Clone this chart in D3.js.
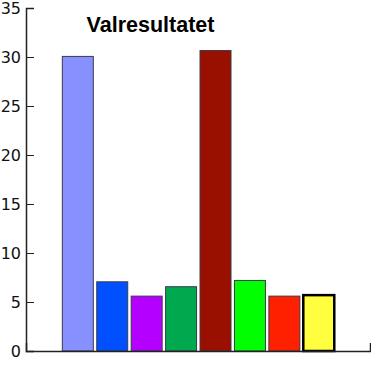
<!DOCTYPE html>
<html>
<head>
<meta charset="utf-8">
<script src="https://cdn.jsdelivr.net/npm/d3@7"></script>
<style>
  body { margin: 0; background: #fff; }
  .axis path, .axis line { stroke: #222; }
  .axis text { font-family: "DejaVu Sans", sans-serif; font-size: 16px; fill: #111; }
</style>
</head>
<body>
<svg width="371" height="370"></svg>
<script>
// party results (percent)
var parties = ["M", "FP", "KD", "C", "S", "MP", "V", "SD"];
var votes = [30.06, 7.06, 5.6, 6.56, 30.66, 7.2, 5.6, 5.7];
var colors = ["#8690ff", "#0050ff", "#b400ff", "#00a84e", "#991000", "#00ff00", "#ff2000", "#ffff40"];
var yTicks = [0, 5, 10, 15, 20, 25, 30, 35];

var svg = d3.select("svg"),
    margin = {top: 8, right: 1, bottom: 19, left: 26},
    width = +svg.attr("width") - margin.left - margin.right,
    height = +svg.attr("height") - margin.top - margin.bottom;

var g = svg.append("g")
    .attr("transform", "translate(" + margin.left + "," + margin.top + ")");

var x = d3.scaleBand()
    .domain(parties)
    .range([34.6, 310])
    .paddingInner(0.1)
    .paddingOuter(0.05);

var y = d3.scaleLinear().domain([0, 35]).range([height, 0]);

// bars
g.selectAll(".bar")
    .data(parties)
  .enter().append("rect")
    .attr("class", "bar")
    .attr("x", function(d) { return x(d); })
    .attr("y", function(d, i) { return y(votes[i]); })
    .attr("width", x.bandwidth())
    .attr("height", function(d, i) { return height - y(votes[i]); })
    .attr("fill", function(d, i) { return colors[i]; })
    .attr("stroke", function(d) { return d === "SD" ? "#000" : "#3a3a4a"; })
    .attr("stroke-width", function(d) { return d === "SD" ? 2.5 : 1; });

// y axis, ticks pointing inward
g.append("g")
    .attr("class", "axis axis--y")
    .call(d3.axisRight(y).tickValues(yTicks).tickSize(8).tickSizeOuter(8))
    .call(function(a) {
      a.select(".domain").attr("stroke-width", 1.5);
      a.selectAll("text").attr("x", -5).attr("text-anchor", "end");
    });

// x axis, no labels
g.append("g")
    .attr("class", "axis axis--x")
    .attr("transform", "translate(0," + height + ")")
    .call(d3.axisTop(d3.scaleLinear().range([0, width])).tickValues([]).tickSizeOuter(8))
    .call(function(a) { a.select(".domain").attr("stroke-width", 1.5); });

// title
svg.append("text")
    .attr("x", 150.5)
    .attr("y", 32)
    .attr("text-anchor", "middle")
    .style("font-family", "'Liberation Sans', Arial, sans-serif")
    .style("font-weight", "bold")
    .style("font-size", "21.5px")
    .text("Valresultatet");
</script>
</body>
</html>
